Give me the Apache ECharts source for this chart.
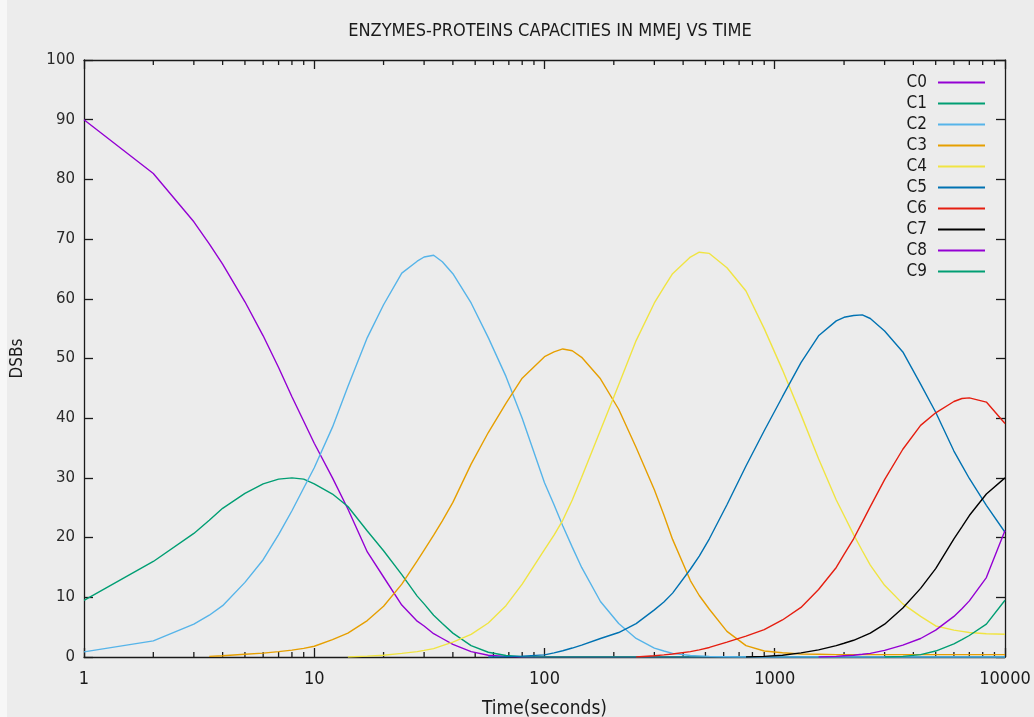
<!DOCTYPE html>
<html>
<head>
<meta charset="utf-8">
<title>Enzymes-proteins capacities in MMEJ vs time</title>
<script src="https://cdn.jsdelivr.net/npm/echarts@6/dist/echarts.min.js"></script>
<style>
  html, body { margin: 0; padding: 0; background: #f7f7f7; }
  #panel { position: absolute; left: 7px; top: 0; width: 1027px; height: 717px; background: #ececec; }
  #chart { position: absolute; left: 0; top: 0; width: 1034px; height: 717px; }
</style>
</head>
<body>
<div id="panel"></div>
<div id="chart"></div>
<script>
// Leading gap for states that have not appeared yet
const none = n => Array(n).fill(null);

// Sample times (seconds)
const times = [1,2,3,3.5,4,5,6,7,8,9,10,12,14,17,20,24,28,30,33,36,40,48,57,68,80,100,110,120,132,145,175,210,250,300,330,360,430,470,520,620,750,900,1080,1300,1550,1850,2000,2200,2400,2600,3000,3600,4300,5000,6000,6500,7000,8300,10000];

// DSB counts per state at each sample time
const C0 = [90,81,72.9,69.2,65.8,59.5,53.8,48.5,43.6,39.5,35.8,30,24.8,17.6,13.4,8.7,6,5.2,3.9,3.1,2.1,0.9,0.3,0.1,
            0,0,0,0,0, 0,0,0,0,0, 0,0,0,0,0, 0,0,0,0,0, 0,0,0,0,0, 0,0,0,0,0, 0,0,0,0,0];
const C1 = [9.5,16,20.7,22.9,24.9,27.4,29,29.8,30,29.8,29,27.3,25.2,21.1,17.8,13.8,10.2,8.9,7,5.6,4,1.9,0.8,0.25,0.05,
            0,0,0,0,0, 0,0,0,0,0, 0,0,0,0,0, 0,0,0,0,0, 0,0,0,0,0, 0,0,0,0,0, 0,0,0,0];
const C2 = [0.85,2.7,5.5,7,8.6,12.5,16.3,20.5,24.5,28.3,31.7,38.5,45.3,53.5,59,64.3,66.3,67,67.3,66.2,
            64.2,59.3,53.5,47,40,29.2,25.5,22,18.4,15,9.3,5.6,3.1,1.5,1,0.6,0.25,0.18,0.1,0.05,
            0,0,0,0,0, 0,0,0,0,0, 0,0,0,0,0, 0,0,0,0];
const C3 = none(3).concat([0.1,0.2,0.45,0.65,0.9,1.15,1.45,1.8,2.9,4,6.1,8.5,12.2,16.1,17.9,20.4,22.8,25.9,
            32.3,37.6,42.5,46.7,50.3,51.1,51.6,51.3,50.2,46.6,41.5,35.1,28,23.8,19.7,12.8,10.3,8,4.3,1.9,1,0.7,0.5,0.45,0.4,
            0.4,0.4,0.4,0.4,0.4,0.4,0.4,0.4,0.4,0.4,0.4,0.4,0.4]);
const C4 = none(12).concat([0,0.15,0.3,0.6,0.9,1.1,1.4,1.9,2.5,3.8,5.7,8.6,12.2,18,20.4,22.9,26.3,30.1,38,45.6,
            53,59.3,61.9,64.2,67,67.8,67.6,65.2,61.3,55,48.1,40.6,33.2,26.3,23.7,20.5,17.8,15.4,12,8.9,
            6.8,5.2,4.5,4.3,4.1,3.9,3.8]);
const C5 = none(22).concat([0,0.05,0.15,0.35,0.7,1.05,1.5,2,3.1,4.1,5.6,7.9,9.2,10.7,14.7,16.9,19.8,25.5,32,37.9,
            43.6,49.3,53.8,56.3,56.9,57.2,57.3,56.7,54.6,51.1,45.7,41,34.5,32.1,29.9,25.4,20.9]);
const C6 = none(32).concat([0,0.2,0.35,0.5,0.9,1.2,1.6,2.5,3.5,4.6,6.2,8.3,11.3,15,17.2,19.8,22.6,25.2,29.7,34.8,
            38.8,40.9,42.8,43.3,43.4,42.7,39.1]);
const C7 = none(40).concat([0,0.1,0.3,0.7,1.2,1.9,2.3,2.8,3.4,4,5.5,8.2,11.5,14.8,19.8,21.8,23.7,27.3,30]);
const C8 = none(44).concat([0,0.1,0.2,0.3,0.45,0.6,1.1,2,3.1,4.5,6.8,8.1,9.4,13.3,21.2]);
const C9 = none(50).concat([0,0.1,0.4,1,2.2,2.9,3.6,5.5,9.5]);

const seriesNames = ['C0','C1','C2','C3','C4','C5','C6','C7','C8','C9'];
const seriesValues = [C0, C1, C2, C3, C4, C5, C6, C7, C8, C9];
const seriesColors = ['#9400d3','#009e73','#56b4e9','#e69f00','#f0e442','#0072b2','#e51e10','#000000','#9400d3','#009e73'];

// Minor ticks of the logarithmic time axis (2..9 within each decade)
const xMinorTicks = [2,3,4,5,6,7,8,9,20,30,40,50,60,70,80,90,200,300,400,500,600,700,800,900,2000,3000,4000,5000,6000,7000,8000,9000];
const xMin = 1, xMax = 10000;
const yMin = 0, yMax = 100, yStep = 10;

const narrow = "'DejaVu Sans Condensed', 'Liberation Sans Narrow', 'DejaVu Sans', sans-serif";
const ink = '#1a1a1a';
const frameLine = { color: '#1a1a1a', width: 1.3 };
const tickLine = { color: ink, width: 1.3 };
const majorLen = 9, minorLen = 5;

function timeAxis(position, withLabels) {
  const axis = {
    type: 'log', logBase: 10, min: xMin, max: xMax,
    position: position,
    axisLine: { show: true, onZero: false, lineStyle: frameLine },
    axisTick: { show: true, inside: true, length: majorLen, lineStyle: tickLine },
    axisLabel: withLabels
      ? { show: true, margin: 13, fontFamily: narrow, fontSize: 18, color: ink, formatter: v => String(v) }
      : { show: false },
    splitLine: { show: false },
    minorTick: { show: false },
    minorSplitLine: { show: false }
  };
  if (withLabels) {
    axis.name = 'Time(seconds)';
    axis.nameLocation = 'middle';
    axis.nameGap = 43;
    axis.nameTextStyle = { fontFamily: narrow, fontSize: 19, color: ink };
  }
  return axis;
}

function valueAxis(position, withLabels) {
  const axis = {
    type: 'value', min: yMin, max: yMax, interval: yStep, position: position,
    axisLine: { show: true, onZero: false, lineStyle: frameLine },
    axisTick: { show: true, inside: true, length: majorLen, lineStyle: tickLine },
    axisLabel: withLabels
      ? { margin: 9, fontFamily: "'DejaVu Sans', sans-serif", fontSize: 15, color: '#2a2a2a' }
      : { show: false },
    splitLine: { show: false }
  };
  if (withLabels) {
    axis.name = 'DSBs';
    axis.nameLocation = 'middle';
    axis.nameGap = 58;
    axis.nameRotate = 90;
    axis.nameTextStyle = { fontFamily: narrow, fontSize: 17, color: ink };
  }
  return axis;
}

// Short inward marks at the minor tick values, on the bottom and top edges
function minorTickItem(params, api) {
  const t = api.value(0);
  const b = api.coord([t, yMin]);
  const u = api.coord([t, yMax]);
  return {
    type: 'group',
    children: [
      { type: 'line', shape: { x1: b[0], y1: b[1], x2: b[0], y2: b[1] - minorLen }, style: { stroke: ink, lineWidth: 1.3 } },
      { type: 'line', shape: { x1: u[0], y1: u[1], x2: u[0], y2: u[1] + minorLen }, style: { stroke: ink, lineWidth: 1.3 } }
    ]
  };
}

const lineSeries = seriesNames.map((name, k) => ({
  name: name,
  type: 'line',
  xAxisIndex: 0,
  yAxisIndex: 0,
  showSymbol: false,
  symbol: 'none',
  clip: true,
  color: seriesColors[k],
  lineStyle: { color: seriesColors[k], width: 1.4 },
  data: times.map((t, i) => [t, seriesValues[k][i]]).filter(p => p[1] !== null && p[1] !== undefined)
}));

const option = {
  backgroundColor: 'transparent',
  animation: false,
  title: {
    text: 'ENZYMES-PROTEINS CAPACITIES IN MMEJ VS TIME',
    left: 545, top: 17, textAlign: 'center',
    textStyle: { fontFamily: narrow, fontSize: 18, fontWeight: 'normal', color: ink }
  },
  legend: {
    orient: 'vertical',
    right: 44, top: 69,
    align: 'right',
    icon: 'rect',
    itemWidth: 47, itemHeight: 2, itemGap: 4,
    textStyle: { fontFamily: narrow, fontSize: 17, lineHeight: 17, color: ink, padding: [0, 6, 0, 0] },
    data: seriesNames
  },
  grid: { left: 84, right: 29, top: 60, bottom: 60, containLabel: false, outerBoundsMode: 'none' },
  xAxis: [timeAxis('bottom', true), timeAxis('top', false)],
  yAxis: [valueAxis('left', true), valueAxis('right', false)],
  series: lineSeries.concat([{
    type: 'custom',
    xAxisIndex: 0,
    yAxisIndex: 0,
    silent: true,
    clip: false,
    renderItem: minorTickItem,
    data: xMinorTicks.map(t => [t, yMin])
  }])
};

const chart = echarts.init(document.getElementById('chart'), null, { renderer: 'canvas' });
chart.setOption(option);
</script>
</body>
</html>
